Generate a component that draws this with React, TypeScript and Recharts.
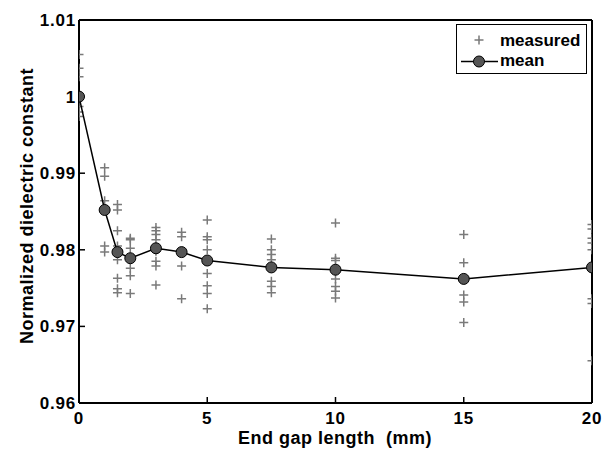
import { ComposedChart, Scatter, XAxis, YAxis, Legend } from "recharts";

// gap lengths (mm) where measurements were taken
const gapLengths = [0, 1, 1.5, 2, 3, 4, 5, 7.5, 10, 15, 20];

// individual measurements, one list per gap length
const measured0 = [1.0055, 1.0037, 1.0026, 0.9987, 0.998, 0.9974];
const measured1 = [0.9907, 0.9896, 0.9864, 0.9805, 0.9797];
const measured1_5 = [0.9859, 0.9852, 0.9825, 0.9805, 0.9787, 0.9763, 0.9749, 0.9744];
const measured2 = [0.9815, 0.9813, 0.9802, 0.9789, 0.9776, 0.9766, 0.9743];
const measured3 = [0.9829, 0.9825, 0.982, 0.9813, 0.9798, 0.9785, 0.9779, 0.9754];
const measured4 = [0.9823, 0.9817, 0.9797, 0.9779, 0.9736];
const measured5 = [0.9839, 0.9817, 0.9813, 0.98, 0.9769, 0.9753, 0.9743, 0.9723];
const measured7_5 = [0.9814, 0.98, 0.9794, 0.9787, 0.9759, 0.9752, 0.9744];
const measured10 = [0.9835, 0.9789, 0.9786, 0.9762, 0.9752, 0.9746, 0.9737];
const measured15 = [0.982, 0.9783, 0.9741, 0.9732, 0.9705];
const measured20 = [0.9833, 0.9827, 0.9815, 0.9809, 0.98, 0.9736, 0.973, 0.9655];

const meanValues = [1.0, 0.9852, 0.9797, 0.9789, 0.9802, 0.9797, 0.9786, 0.9777, 0.9774, 0.9762, 0.9777];

const xTicks = [0, 5, 10, 15, 20];
const yTicks = [0.96, 0.97, 0.98, 0.99, 1, 1.01];

const measuredLists = [
  measured0, measured1, measured1_5, measured2, measured3, measured4,
  measured5, measured7_5, measured10, measured15, measured20,
];

const measuredData = gapLengths.flatMap((g, i) =>
  measuredLists[i].map((v) => ({ x: g, y: v }))
);
const meanData = gapLengths.map((g, i) => ({ x: g, y: meanValues[i] }));

const FONT = '"Liberation Sans", Arial, sans-serif';
const GRAY = "#7a7a7a";

const Cross = (props: any) => {
  const { cx, cy } = props;
  if (cx == null || cy == null) return null;
  return (
    <path
      d={`M${cx - 4.5},${cy}H${cx + 4.5}M${cx},${cy - 4.5}V${cy + 4.5}`}
      stroke={GRAY}
      strokeWidth={1.5}
      fill="none"
    />
  );
};

const Dot = (props: any) => {
  const { cx, cy } = props;
  if (cx == null || cy == null) return null;
  return <circle cx={cx} cy={cy} r={5.5} fill="#555555" stroke="#000" strokeWidth={1} />;
};

const XTick = ({ x, y, payload }: any) => (
  <text x={x} y={y} dy={12} textAnchor="middle" fontFamily={FONT} fontWeight="bold"
    fontSize={17} letterSpacing={0.8} fill="#000">
    {payload.value}
  </text>
);

const YTick = ({ x, y, payload }: any) => (
  <text x={x} y={y} dy={6} textAnchor="end" fontFamily={FONT} fontWeight="bold"
    fontSize={17} letterSpacing={0.8} fill="#000">
    {String(payload.value)}
  </text>
);

const LegendBox = () => (
  <svg width={131} height={50} style={{ display: "block", background: "#fff" }}>
    <rect x={0.5} y={0.5} width={130} height={49} fill="#fff" stroke="#000" strokeWidth={1} />
    <path d="M18.5,16H27.5M23,11.5V20.5" stroke={GRAY} strokeWidth={1.5} />
    <text x={44} y={22} fontFamily={FONT} fontWeight="bold" fontSize={17} fill="#000">measured</text>
    <line x1={5} y1={37.5} x2={42} y2={37.5} stroke="#000" strokeWidth={1.5} />
    <circle cx={23} cy={37.5} r={5.5} fill="#555555" stroke="#000" strokeWidth={1} />
    <text x={44} y={42} fontFamily={FONT} fontWeight="bold" fontSize={17} fill="#000">mean</text>
  </svg>
);

const labelStyle = { fontFamily: FONT, fontWeight: "bold" as const, fontSize: 18, fill: "#000" };

export default function App() {
  return (
    <div style={{ position: "absolute", left: 0, top: 0, background: "#fff" }}>
      <ComposedChart width={607} height={450} margin={{ top: 19, right: 14, bottom: 0, left: 0 }}>
        <XAxis
          xAxisId={0}
          dataKey="x"
          type="number"
          domain={[0, 20]}
          ticks={xTicks}
          height={47}
          axisLine={{ stroke: "#000", strokeWidth: 2 }}
          tickLine={{ stroke: "#000", strokeWidth: 1.5 }}
          tickSize={-6}
          tickMargin={15}
          tick={<XTick />}
          allowDataOverflow
          label={{
            content: () => (
              <text x={335} y={444} textAnchor="middle" letterSpacing={0.5}
                style={{ ...labelStyle, whiteSpace: "pre" }}>
                End gap length  (mm)
              </text>
            ),
          }}
        />
        <XAxis
          xAxisId="top"
          orientation="top"
          dataKey="x"
          type="number"
          domain={[0, 20]}
          ticks={xTicks}
          height={1}
          axisLine={{ stroke: "#000", strokeWidth: 2 }}
          tickLine={{ stroke: "#000", strokeWidth: 1.5 }}
          tickSize={-6}
          tick={false}
        />
        <YAxis
          yAxisId={0}
          dataKey="y"
          type="number"
          domain={[0.96, 1.01]}
          ticks={yTicks}
          width={79}
          axisLine={{ stroke: "#000", strokeWidth: 2 }}
          tickLine={{ stroke: "#000", strokeWidth: 1.5 }}
          tickSize={-6}
          tickMargin={9}
          tick={<YTick />}
          allowDataOverflow
          label={{
            content: () => (
              <text x={33} y={206} textAnchor="middle" transform="rotate(-90, 33, 206)"
                letterSpacing={0.5} style={labelStyle}>
                Normalized dielectric constant
              </text>
            ),
          }}
        />
        <YAxis
          yAxisId="right"
          orientation="right"
          dataKey="y"
          type="number"
          domain={[0.96, 1.01]}
          ticks={yTicks}
          width={1}
          axisLine={{ stroke: "#000", strokeWidth: 2 }}
          tickLine={{ stroke: "#000", strokeWidth: 1.5 }}
          tickSize={-6}
          tick={false}
        />
        <Scatter
          name="measured"
          data={measuredData}
          shape={<Cross />}
          isAnimationActive={false}
        />
        <Scatter
          name="mean"
          data={meanData}
          line={{ stroke: "#000", strokeWidth: 1.5 }}
          lineType="joint"
          shape={<Dot />}
          isAnimationActive={false}
        />
        <Legend
          layout="vertical"
          align="center"
          verticalAlign="middle"
          content={<LegendBox />}
          wrapperStyle={{ left: 456, top: 24, width: 131, height: 50 }}
        />
      </ComposedChart>
    </div>
  );
}
